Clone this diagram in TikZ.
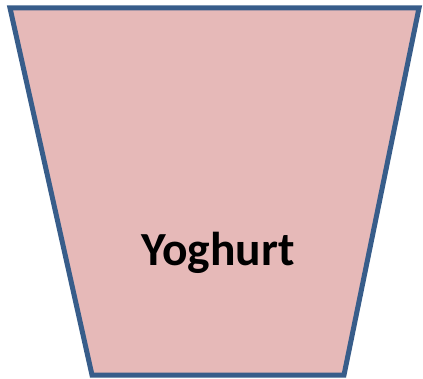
\documentclass[tikz,border=0pt]{standalone}
\usepackage{fontspec}
\setmainfont{Carlito}
\definecolor{pinkfill}{RGB}{230,185,184}
\definecolor{bordblue}{RGB}{56,93,138}
\tikzset{cup/.style={draw=bordblue,fill=pinkfill,line width=5pt,line join=miter}}
\begin{document}
\begin{tikzpicture}[x=1pt,y=1pt]
\useasboundingbox (0,0) rectangle (423,378);
\coordinate (tl) at (10,370);
\coordinate (tr) at (419,370);
\coordinate (br) at (344,3);
\coordinate (bl) at (92,3);
\draw[cup] (tl) -- (tr) -- (br) -- (bl) -- cycle;
\node[font=\bfseries\fontsize{47.5}{56}\selectfont, inner sep=0pt, anchor=base] (lbl) at (218,113) {Yoghurt};
\end{tikzpicture}
\end{document}
